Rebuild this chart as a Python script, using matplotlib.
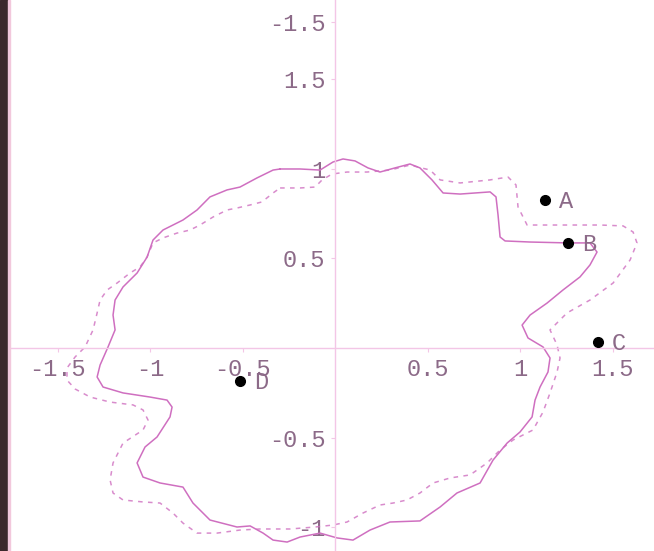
import matplotlib
matplotlib.use("Agg")
import matplotlib.pyplot as plt
from matplotlib.patches import Rectangle

# closed curve (solid), traced clockwise from the top
curve_x = [-0.297, -0.189, -0.081, -0.011, 0.043, 0.108, 0.178, 0.243, 0.324, 0.405,
           0.459, 0.524, 0.584, 0.676, 0.838, 0.870, 0.881, 0.892, 0.919, 1.054,
           1.259, 1.378, 1.416, 1.378, 1.324, 1.232, 1.146, 1.054, 1.011, 1.043,
           1.124, 1.162, 1.151, 1.108, 1.081, 1.065, 1.000, 0.930, 0.854, 0.784,
           0.659, 0.568, 0.459, 0.297, 0.189, 0.097, 0.011, -0.081, -0.189, -0.259,
           -0.335, -0.389, -0.459, -0.530, -0.676, -0.768, -0.822, -0.946, -1.038, -1.070,
           -1.027, -0.962, -0.892, -0.881, -0.908, -1.000, -1.146, -1.254, -1.286, -1.270,
           -1.227, -1.189, -1.200, -1.189, -1.146, -1.070, -1.016, -0.984, -0.930, -0.822,
           -0.746, -0.676, -0.584, -0.514, -0.422, -0.335]
curve_y = [1.000, 1.000, 0.994, 1.039, 1.056, 1.045, 1.006, 0.983, 1.006, 1.028,
           1.006, 0.939, 0.866, 0.860, 0.872, 0.844, 0.743, 0.620, 0.598, 0.592,
           0.587, 0.587, 0.536, 0.464, 0.397, 0.324, 0.251, 0.184, 0.128, 0.056,
           0.006, -0.056, -0.134, -0.218, -0.291, -0.385, -0.469, -0.531, -0.626, -0.754,
           -0.810, -0.888, -0.966, -0.972, -1.017, -1.073, -1.061, -1.034, -1.056, -1.084,
           -1.073, -1.034, -0.994, -1.000, -0.961, -0.866, -0.777, -0.754, -0.721, -0.642,
           -0.553, -0.497, -0.385, -0.330, -0.291, -0.274, -0.251, -0.218, -0.162, -0.095,
           0.006, 0.101, 0.184, 0.268, 0.341, 0.419, 0.508, 0.603, 0.659, 0.715,
           0.771, 0.844, 0.883, 0.899, 0.950, 0.994]

# second curve (dashed)
dash_x = [-0.297, -0.189, -0.108, -0.070, -0.016, 0.065, 0.173, 0.297, 0.405, 0.514,
          0.568, 0.676, 0.838, 0.935, 0.978, 0.989, 1.038, 1.216, 1.432, 1.557,
          1.611, 1.632, 1.595, 1.503, 1.378, 1.254, 1.162, 1.200, 1.216, 1.200,
          1.162, 1.124, 1.070, 0.962, 0.892, 0.822, 0.730, 0.622, 0.530, 0.459,
          0.389, 0.314, 0.243, 0.151, 0.065, -0.011, -0.108, -0.243, -0.405, -0.514,
          -0.638, -0.746, -0.822, -0.876, -0.946, -1.038, -1.146, -1.200, -1.216, -1.200,
          -1.146, -1.038, -1.011, -1.038, -1.092, -1.216, -1.324, -1.405, -1.449, -1.449,
          -1.405, -1.351, -1.308, -1.286, -1.270, -1.232, -1.178, -1.108, -1.054, -1.016,
          -0.984, -0.930, -0.854, -0.784, -0.730, -0.659, -0.584, -0.530, -0.459, -0.395,
          -0.335]
dash_y = [0.894, 0.894, 0.899, 0.939, 0.972, 0.983, 0.983, 0.994, 1.022, 0.994,
          0.939, 0.922, 0.939, 0.955, 0.911, 0.788, 0.687, 0.687, 0.687, 0.682,
          0.648, 0.587, 0.492, 0.363, 0.268, 0.196, 0.101, 0.017, -0.056, -0.134,
          -0.251, -0.358, -0.458, -0.514, -0.570, -0.642, -0.709, -0.726, -0.754, -0.810,
          -0.849, -0.866, -0.877, -0.922, -0.972, -0.989, -1.000, -1.011, -1.011, -1.017,
          -1.034, -1.034, -0.978, -0.922, -0.866, -0.860, -0.849, -0.810, -0.737, -0.642,
          -0.531, -0.458, -0.402, -0.346, -0.318, -0.302, -0.274, -0.229, -0.179, -0.112,
          -0.050, 0.006, 0.101, 0.196, 0.268, 0.324, 0.363, 0.419, 0.453, 0.508,
          0.587, 0.615, 0.642, 0.659, 0.687, 0.732, 0.771, 0.782, 0.799, 0.816,
          0.866]

# labelled points
point_names = ["A", "B", "C", "D"]
point_x = [1.135, 1.259, 1.422, -0.514]
point_y = [0.827, 0.587, 0.034, -0.184]

# axis ticks
x_ticks = [-1.5, -1, -0.5, 0.5, 1, 1.5]
x_tick_labels = ["-1.5", "-1", "-0.5", "0.5", "1", "1.5"]
y_ticks = [-1, -0.5, 0.5, 1, 1.5, 1.82]
y_tick_labels = ["-1", "-0.5", "0.5", "1", "1.5", "-1.5"]

pink = "#cf6fc0"
axis_pink = "#f3c6e6"
text_col = "#8c6a88"
mono = "Liberation Mono"

fig = plt.figure(figsize=(6.54, 5.51), dpi=100)
ax = fig.add_axes([0, 0, 1, 1])
ax.set_xlim(-1.811, 1.724)
ax.set_ylim(-1.134, 1.944)

for side in ["top", "right"]:
    ax.spines[side].set_visible(False)
ax.spines["left"].set_position("zero")
ax.spines["bottom"].set_position("zero")
for side in ["left", "bottom"]:
    ax.spines[side].set_color(axis_pink)
    ax.spines[side].set_linewidth(1.0)

ax.set_xticks(x_ticks)
ax.set_xticklabels(x_tick_labels)
ax.set_yticks(y_ticks)
ax.set_yticklabels(y_tick_labels)
ax.tick_params(length=3, width=0.8, color=axis_pink, pad=4,
               labelsize=17, labelcolor=text_col)
for lab in ax.get_xticklabels() + ax.get_yticklabels():
    lab.set_family(mono)

ax.plot(curve_x + curve_x[:1], curve_y + curve_y[:1], color=pink, lw=1.1,
        solid_joinstyle="round")
ax.plot(dash_x + dash_x[:1], dash_y + dash_y[:1], color=pink, lw=1.1,
        alpha=0.8, dashes=(3, 3.5))

ax.plot(point_x, point_y, "o", color="black", ms=7, zorder=5)
for name, px, py in zip(point_names, point_x, point_y):
    ax.annotate(name, (px, py), xytext=(10, -1), textcoords="offset points",
                ha="left", va="center", fontsize=17, color=text_col, family=mono)

# dark border strip on the left edge
fig.patches.append(Rectangle((0, 0), 8 / 654, 1, transform=fig.transFigure,
                             color="#3b292c", zorder=10))
fig.patches.append(Rectangle((8 / 654, 0), 2 / 654, 1, transform=fig.transFigure,
                             color="#f2c8dc", zorder=10))

fig.savefig("out.png", dpi=100)
